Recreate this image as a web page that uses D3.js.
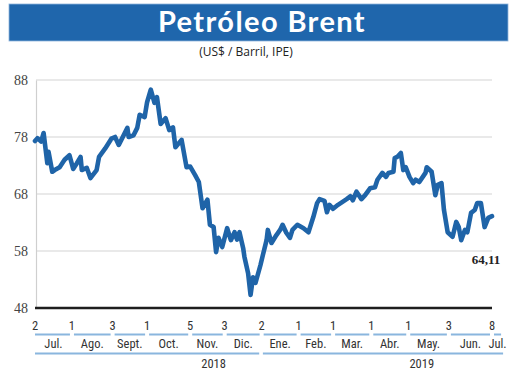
<!DOCTYPE html>
<html>
<head>
<meta charset="utf-8">
<script src="https://cdn.jsdelivr.net/npm/d3@7"></script>
<style>
  html, body { margin: 0; padding: 0; background: #ffffff; }
  svg { display: block; }
</style>
</head>
<body>
<svg id="chart" width="520" height="390"></svg>
<script>
// ---- data ----
const title = "Petróleo Brent";
const subtitle = "(US$ / Barril, IPE)";
const lastLabel = "64,11";

const dates = [
  "2018-07-02","2018-07-04","2018-07-07","2018-07-09","2018-07-12","2018-07-13","2018-07-16","2018-07-18",
  "2018-07-22","2018-07-26","2018-07-30","2018-08-02","2018-08-05","2018-08-08","2018-08-09","2018-08-13",
  "2018-08-16","2018-08-21","2018-08-23","2018-08-28","2018-09-02","2018-09-05","2018-09-08","2018-09-15",
  "2018-09-16","2018-09-20","2018-09-23","2018-09-25","2018-09-29","2018-10-01","2018-10-04","2018-10-07",
  "2018-10-09","2018-10-12","2018-10-16","2018-10-19","2018-10-22","2018-10-24","2018-10-29","2018-11-02",
  "2018-11-05","2018-11-09","2018-11-12","2018-11-15","2018-11-19","2018-11-21","2018-11-24","2018-11-26",
  "2018-11-28","2018-12-01","2018-12-05","2018-12-08","2018-12-11","2018-12-13","2018-12-15","2018-12-18",
  "2018-12-19","2018-12-22","2018-12-24","2018-12-26","2018-12-28","2019-01-01","2019-01-03","2019-01-06",
  "2019-01-07","2019-01-10","2019-01-14","2019-01-17","2019-01-19","2019-01-22","2019-01-25","2019-01-27",
  "2019-01-31","2019-02-05","2019-02-09","2019-02-13","2019-02-16","2019-02-18","2019-02-22","2019-02-24",
  "2019-02-26","2019-03-01","2019-03-05","2019-03-12","2019-03-15","2019-03-17","2019-03-20","2019-03-24",
  "2019-03-27","2019-03-31","2019-04-04","2019-04-06","2019-04-10","2019-04-13","2019-04-15","2019-04-19",
  "2019-04-20","2019-04-22","2019-04-25","2019-04-27","2019-04-29","2019-05-02","2019-05-05","2019-05-07",
  "2019-05-10","2019-05-15","2019-05-16","2019-05-20","2019-05-23","2019-05-25","2019-05-28","2019-05-30",
  "2019-06-02","2019-06-06","2019-06-09","2019-06-11","2019-06-13","2019-06-16","2019-06-18","2019-06-21",
  "2019-06-24","2019-06-26","2019-06-29","2019-07-02","2019-07-05","2019-07-08"
];
const prices = [
  77.3,77.8,77.2,78.7,73.4,75.4,71.9,72.2,
  72.7,74.0,74.8,72.4,73.4,74.5,72.2,72.6,
  70.8,72.2,74.5,76.0,77.7,78.0,76.6,79.6,
  78.0,78.3,79.6,81.9,81.5,84.1,86.3,84.0,
  85.0,80.3,81.3,79.2,79.7,76.2,77.5,72.7,
  72.8,71.3,70.1,65.5,67.0,62.6,62.2,57.8,
  60.3,58.7,62.0,59.9,61.3,60.0,61.3,58.5,
  57.0,54.1,50.3,53.4,52.4,55.5,57.3,59.9,
  61.7,59.4,60.8,61.7,62.6,61.2,60.3,61.7,
  62.6,62.0,61.3,64.0,66.4,67.1,66.8,64.8,
  66.1,65.4,66.1,67.1,67.6,66.9,68.4,67.1,
  67.8,69.0,69.2,70.5,71.7,71.0,71.7,71.9,
  74.3,74.5,75.2,72.2,72.7,71.0,69.9,70.5,
  70.1,71.7,72.7,71.9,67.8,69.6,69.9,65.2,
  61.3,60.5,63.1,62.2,59.9,61.7,61.3,64.7,
  65.2,66.4,66.4,62.2,63.8,64.11
];

const yTicks = [48, 58, 68, 78, 88];
const monthTickDates = ["2018-07-02","2018-08-01","2018-09-03","2018-10-01","2018-11-05","2018-12-03",
  "2019-01-02","2019-02-01","2019-03-01","2019-04-01","2019-05-01","2019-06-03","2019-07-08"];
const monthNames = ["Jul.","Ago.","Sept.","Oct.","Nov.","Dic.","Ene.","Feb.","Mar.","Abr.","May.","Jun.","Jul."];
const axisEndDate = "2019-07-17";
const years = ["2018", "2019"];
const yearSpans = [["2018-07-02","2018-12-31"],["2019-01-03","2019-07-17"]];
const yearLabelDates = ["2018-11-24","2019-05-12"];

// ---- drawing ----
const parse = d3.timeParse("%Y-%m-%d");
const data = dates.map((d, i) => ({ date: parse(d), value: prices[i] }));

const svg = d3.select("#chart");
const blue = "#1f64a8";
const lightBlue = "#8ab6de";

const x = d3.scaleTime()
  .domain([parse("2018-07-02"), parse("2019-07-08")])
  .range([35, 492]);
const y = d3.scaleLinear().domain([48, 88]).range([308, 80]);

// banner
svg.append("rect").attr("x", 9).attr("y", 4).attr("width", 499).attr("height", 37)
  .attr("fill", "#1f66ac").attr("stroke", "#8fb5dc").attr("stroke-width", 0.8);
svg.append("text").attr("x", 262).attr("y", 32).attr("text-anchor", "middle")
  .attr("font-family", "Lato, 'Open Sans', sans-serif").attr("font-weight", 700)
  .attr("font-size", 29).attr("letter-spacing", 1.4).attr("fill", "#ffffff").text(title);
svg.append("text").attr("x", 246).attr("y", 56).attr("text-anchor", "middle")
  .attr("font-family", "'Open Sans', 'Liberation Sans', sans-serif")
  .attr("font-size", 12).attr("fill", "#222").text(subtitle);

// gridlines
const gridG = svg.append("g");
gridG.selectAll("line").data(yTicks.filter(v => v !== 48)).enter().append("line")
  .attr("x1", 36).attr("x2", 492)
  .attr("y1", d => y(d)).attr("y2", d => y(d))
  .attr("stroke", "#d3d3d3").attr("stroke-width", 1.2);

// left axis line + labels
const yAxis = d3.axisLeft(y).tickValues(yTicks).tickSize(0).tickPadding(8);
const yG = svg.append("g").attr("transform", "translate(36,0)").call(yAxis);
yG.select(".domain").attr("stroke", "#cfcfcf").attr("stroke-width", 1.2);
yG.selectAll("text").attr("font-family", "'Liberation Serif', 'DejaVu Serif', serif")
  .attr("font-size", 14).attr("fill", "#444");

// bottom axis line
svg.append("line").attr("x1", 35).attr("x2", 492).attr("y1", y(48)).attr("y2", y(48))
  .attr("stroke", "#1e1e1e").attr("stroke-width", 2.4);

// price line
const line = d3.line().x(d => x(d.date)).y(d => y(d.value)).curve(d3.curveLinear);
svg.append("path").datum(data).attr("d", line)
  .attr("fill", "none").attr("stroke", blue).attr("stroke-width", 4.6)
  .attr("stroke-linejoin", "round").attr("stroke-linecap", "round");

// last value label
const last = data[data.length - 1];
svg.append("text").attr("x", x(last.date) - 6).attr("y", y(58) + 13)
  .attr("text-anchor", "middle")
  .attr("font-family", "'Liberation Serif', 'DejaVu Serif', serif").attr("font-weight", 700)
  .attr("font-size", 13).attr("fill", "#222").text(lastLabel);

// x axis: day labels and month bands
const axisFont = "'Liberation Sans Narrow', 'Roboto Condensed', 'Liberation Sans', sans-serif";
const ticks = monthTickDates.map(parse);
const ends = ticks.slice(1).concat([parse(axisEndDate)]);
const xg = svg.append("g");
xg.selectAll("text.day").data(ticks).enter().append("text").attr("class", "day")
  .attr("x", d => x(d)).attr("y", 329.5).attr("text-anchor", "middle")
  .attr("font-family", axisFont).attr("font-size", 12.5).attr("fill", "#333")
  .text(d => d.getDate());
xg.selectAll("line.month").data(ticks).enter().append("line").attr("class", "month")
  .attr("x1", (d, i) => i === 0 ? x(d) : x(d) + 2)
  .attr("x2", (d, i) => x(ends[i]) - 2)
  .attr("y1", 334.5).attr("y2", 334.5)
  .attr("stroke", lightBlue).attr("stroke-width", 2);
xg.selectAll("text.month").data(ticks).enter().append("text").attr("class", "month")
  .attr("x", (d, i) => (x(d) + x(ends[i])) / 2).attr("y", 348).attr("text-anchor", "middle")
  .attr("font-family", axisFont).attr("font-size", 12.5).attr("fill", "#333")
  .text((d, i) => monthNames[i]);

// year bands
xg.selectAll("line.year").data(yearSpans).enter().append("line").attr("class", "year")
  .attr("x1", d => x(parse(d[0]))).attr("x2", d => x(parse(d[1])))
  .attr("y1", 353.5).attr("y2", 353.5)
  .attr("stroke", lightBlue).attr("stroke-width", 2);
xg.selectAll("text.year").data(years).enter().append("text").attr("class", "year")
  .attr("x", (d, i) => x(parse(yearLabelDates[i]))).attr("y", 367.5).attr("text-anchor", "middle")
  .attr("font-family", axisFont).attr("font-size", 12.5).attr("fill", "#333")
  .text(d => d);
</script>
</body>
</html>
